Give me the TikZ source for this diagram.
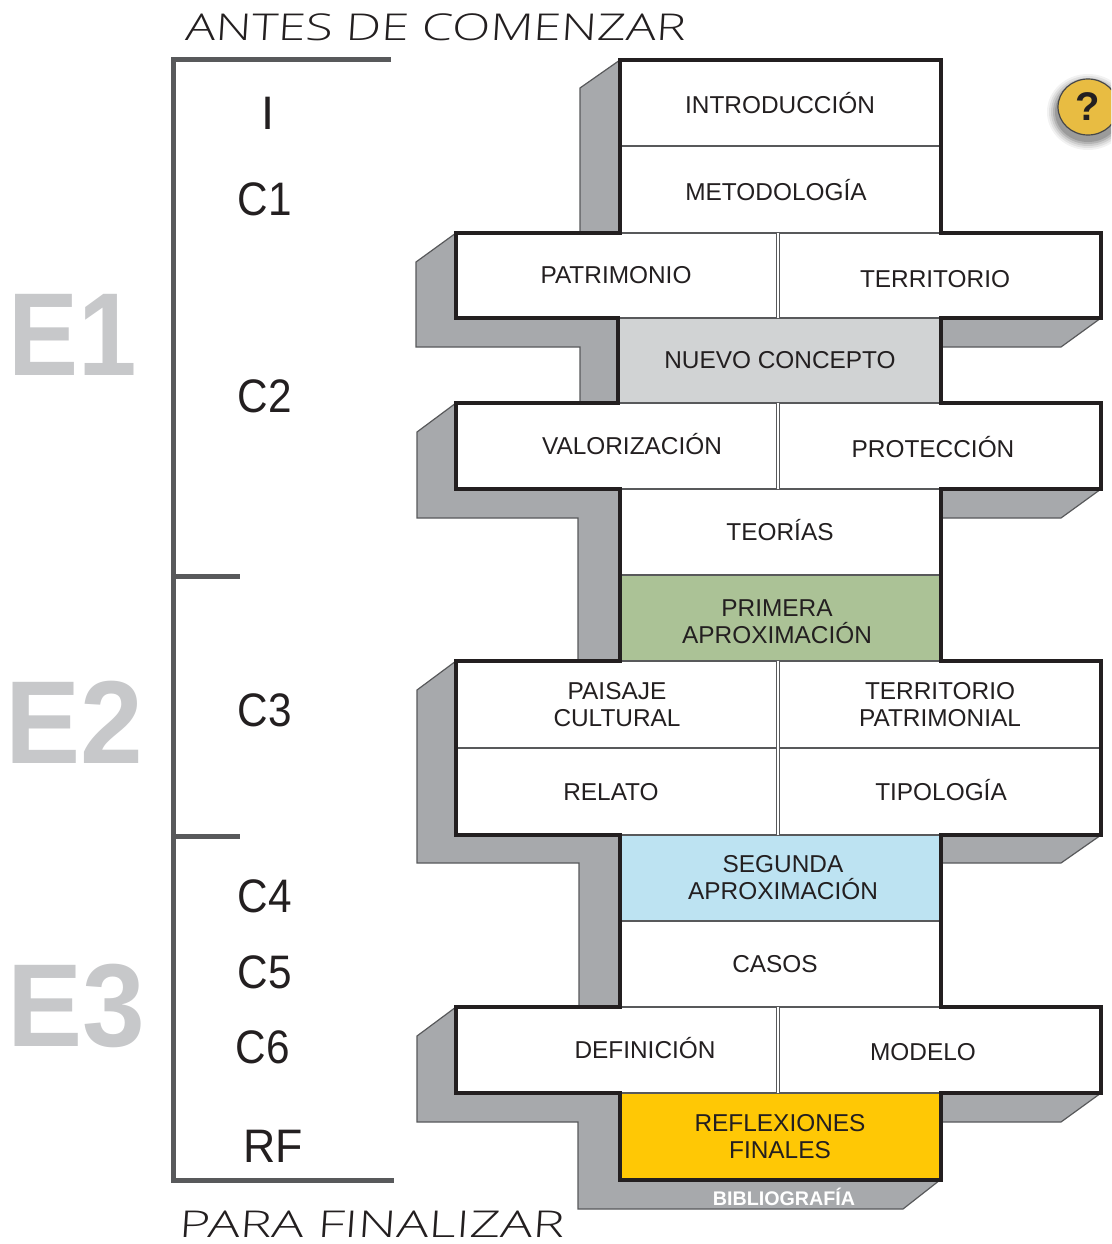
\documentclass[tikz,border=0pt]{standalone}
\usepackage{fontspec}
\usepackage{graphicx}
\usetikzlibrary{shapes.geometric}
\setmainfont{Liberation Sans}
\newfontfamily\handfont[FakeStretch=1.28,FakeSlant=0.06]{Open Sans Light}
\definecolor{shadowgrey}{HTML}{A7A9AC}
\definecolor{inkdark}{HTML}{231F20}
\definecolor{barcol}{HTML}{58595B}
\definecolor{stagecol}{HTML}{C7C8CA}
\definecolor{concept}{HTML}{D1D3D4}
\definecolor{firstcol}{HTML}{ABC296}
\definecolor{secondcol}{HTML}{BDE3F2}
\definecolor{finalcol}{HTML}{FFC805}
\definecolor{helpcol}{HTML}{E8BC42}
\tikzset{
  x=1pt,y=-1pt,
  shadowpoly/.style={fill=shadowgrey,draw=barcol,line width=1.2pt,line join=miter},
  boxcell/.style={draw=barcol,line width=1.2pt,inner sep=0pt,outer sep=0pt,fill=white},
  thickline/.style={draw=inkdark,line width=3.1pt,line join=miter},
  dividerline/.style={draw=barcol,line width=3.2pt},
  dividergap/.style={draw=white,line width=1.1pt},
  lbl/.style={font=\fontsize{24.4}{27}\selectfont,text=inkdark,align=center,inner sep=0pt},
  chap/.style={font=\fontsize{47}{50}\selectfont,text=inkdark,inner sep=0pt},
  stage/.style={font=\fontsize{118}{120}\selectfont\bfseries,text=stagecol,inner sep=0pt},
  bracket/.style={draw=barcol,line width=5pt},
  hand/.style={font=\handfont\fontsize{37}{38}\selectfont,text=inkdark,inner sep=0pt}
}
\newcommand{\cell}[6][white]{% fill, name, x0,y0,x1,y1
  \node[boxcell,fill=#1,minimum width=#5pt-#3pt,minimum height=#6pt-#4pt,anchor=north west] (#2) at (#3,#4) {};}
\newcommand{\chaptxt}[1]{\scalebox{0.9}[1]{#1}}
\begin{document}
\begin{tikzpicture}
\useasboundingbox (0,0) rectangle (1111,1244);
% shadows
\path[shadowpoly] (580,88)--(620,60)--(620,233)--(580,233)--cycle;
\path[shadowpoly] (416,262)--(456,233)--(456,318)--(618,318)--(618,403)--(580,403)--(580,347)--(416,347)--cycle;
\path[shadowpoly] (417,432)--(456,403)--(456,489)--(620,489)--(620,661)--(578,661)--(578,518)--(417,518)--cycle;
\path[shadowpoly] (417,690)--(456,661)--(456,835)--(620,835)--(620,1007)--(579,1007)--(579,863)--(417,863)--cycle;
\path[shadowpoly] (417,1036)--(456,1007)--(456,1093)--(620,1093)--(620,1180)--(940,1180)--(903,1209)--(578,1209)--(578,1122)--(417,1122)--cycle;
\foreach \ya/\yb in {318/347,489/518,835/863,1093/1122}
  \path[shadowpoly] (941,\ya)--(1101,\ya)--(1061,\yb)--(941,\yb)--cycle;
% cells
\cell{intro}{620}{60}{941}{146}
\cell{metod}{620}{146}{941}{233}
\cell{patri}{456}{233}{778}{318}
\cell{terri}{778}{233}{1101}{318}
\cell[concept]{nuevo}{618}{318}{941}{403}
\cell{valor}{456}{403}{778}{489}
\cell{prote}{778}{403}{1101}{489}
\cell{teori}{620}{489}{941}{575}
\cell[firstcol]{prima}{620}{575}{941}{661}
\cell{paisa}{456}{661}{778}{748}
\cell{tepat}{778}{661}{1101}{748}
\cell{relat}{456}{748}{778}{835}
\cell{tipol}{778}{748}{1101}{835}
\cell[secondcol]{segun}{620}{835}{941}{921}
\cell{casos}{620}{921}{941}{1007}
\cell{defin}{456}{1007}{778}{1093}
\cell{model}{778}{1007}{1101}{1093}
\cell[finalcol]{refle}{620}{1093}{941}{1180}
% double dividers between paired cells
\foreach \a in {patri,valor,paisa,relat,defin}{
  \draw[dividerline] (\a.north east)--(\a.south east);
  \draw[dividergap] (\a.north east)--(\a.south east);
}
% heavy silhouette
\draw[thickline] (intro.north west)--(metod.south west)--(patri.north west)--(patri.south west)
  --(nuevo.north west)--(nuevo.south west)--(valor.north west)--(valor.south west)
  --(teori.north west)--(prima.south west)--(paisa.north west)--(relat.south west)
  --(segun.north west)--(casos.south west)--(defin.north west)--(defin.south west)
  --(refle.north west)--(refle.south west)--(refle.south east)--(refle.north east)
  --(model.south east)--(model.north east)--(casos.south east)--(segun.north east)
  --(tipol.south east)--(tepat.north east)--(prima.south east)--(teori.north east)
  --(prote.south east)--(prote.north east)--(nuevo.south east)--(nuevo.north east)
  --(terri.south east)--(terri.north east)--(metod.south east)--(intro.north east)--cycle;
% cell labels
\node[lbl] at (780,103.5) {INTRODUCCIÓN};
\node[lbl] at (776,190) {METODOLOGÍA};
\node[lbl] at (616,275) {PATRIMONIO};
\node[lbl] at (935,279) {TERRITORIO};
\node[lbl] at (780,360) {NUEVO CONCEPTO};
\node[lbl] at (632,444) {VALORIZACIÓN};
\node[lbl] at (933,447) {PROTECCIÓN};
\node[lbl] at (780,530) {TEORÍAS};
\node[lbl] at (777,622) {PRIMERA\\APROXIMACIÓN};
\node[lbl] at (617,705) {PAISAJE\\CULTURAL};
\node[lbl] at (940,705) {TERRITORIO\\PATRIMONIAL};
\node[lbl] at (611,792) {RELATO};
\node[lbl] at (941,790.5) {TIPOLOGÍA};
\node[lbl] at (783,878) {SEGUNDA\\APROXIMACIÓN};
\node[lbl] at (775,964) {CASOS};
\node[lbl] at (645,1048) {DEFINICIÓN};
\node[lbl] at (923,1052) {MODELO};
\node[lbl] at (780,1137) {REFLEXIONES\\FINALES};
\node[font=\fontsize{19.7}{20}\selectfont\bfseries,text=white,inner sep=0pt] (biblio) at (784,1196.5) {BIBLIOGRAFÍA};
% bracket
\coordinate (brTopEnd) at (391,60);
\coordinate (brTop) at (173,60);
\coordinate (brBot) at (173,1180);
\coordinate (brBotEnd) at (394,1180);
\draw[bracket,line join=miter] (brTopEnd)--(brTop)--(brBot)--(brBotEnd);
\coordinate (tickA) at (173,576);
\coordinate (tickAe) at (240,576);
\coordinate (tickB) at (173,836);
\coordinate (tickBe) at (240,836);
\draw[bracket] (tickA)--(tickAe);
\draw[bracket] (tickB)--(tickBe);
% chapter labels
\node[chap] at (268,113) {I};
\node[chap] at (265,199) {\chaptxt{C1}};
\node[chap] at (265,396) {\chaptxt{C2}};
\node[chap] at (265,710) {\chaptxt{C3}};
\node[chap] at (265,896) {\chaptxt{C4}};
\node[chap] at (265,972) {\chaptxt{C5}};
\node[chap] at (263,1047) {\chaptxt{C6}};
\node[chap] at (273,1146) {\scalebox{0.95}[1]{RF}};
% stage labels
\node[stage] at (73,335) {\scalebox{0.89}[1]{E1}};
\node[stage] at (74,722) {\scalebox{0.955}[1]{E2}};
\node[stage] at (76,1006) {\scalebox{0.955}[1]{E3}};
% hand-lettered captions
\node[hand] at (435,27) {\scalebox{1.057}[1]{ANTES DE COMENZAR}};
\node[hand] at (371,1224) {\scalebox{1.13}[1]{PARA FINALIZAR}};
% help button
\begin{scope}
\clip (0,0) rectangle (1111,1244);
\foreach \d/\o in {10/0.05,8/0.07,6/0.09,4/0.12,2/0.14}
  \fill[black,opacity=\o] (1088,112) ellipse ({31+\d} and {28+\d});
\node[draw=barcol!80!black,fill=helpcol,line width=1.2pt,ellipse,minimum width=60pt,minimum height=56pt,inner sep=0pt,font=\fontsize{40}{40}\selectfont\bfseries,text=inkdark] (help) at (1088,107) {?};
\end{scope}
\end{tikzpicture}
\end{document}
